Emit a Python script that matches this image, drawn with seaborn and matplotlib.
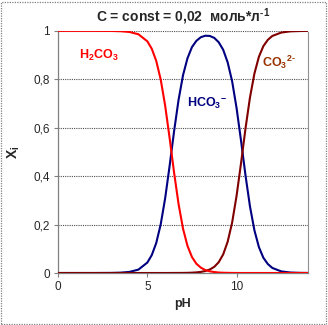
import matplotlib
matplotlib.use("Agg")
import matplotlib.pyplot as plt
import seaborn as sns
import pandas as pd
from matplotlib.patches import Rectangle

# pH grid and molar fractions of the carbonate species
ph = [0, 1, 2, 3, 3.5, 4, 4.5, 5, 5.25, 5.5, 5.75, 6, 6.25, 6.5, 6.75, 7,
      7.25, 7.5, 7.75, 8, 8.25, 8.5, 8.75, 9, 9.25, 9.5, 9.75, 10, 10.25,
      10.5, 10.75, 11, 11.25, 11.5, 11.75, 12, 12.5, 13, 13.5, 14]
h2co3 = [1.0, 1.0, 1.0, 0.9996, 0.9986, 0.9955, 0.986, 0.957, 0.926, 0.876,
         0.799, 0.691, 0.557, 0.414, 0.285, 0.183, 0.112, 0.066, 0.038,
         0.022, 0.012, 0.007, 0.004, 0.002, 0.001, 0.0006, 0.0003, 0.0001,
         0.0, 0.0, 0.0, 0.0, 0.0, 0.0, 0.0, 0.0, 0.0, 0.0, 0.0, 0.0]
hco3 = [0.0, 0.0, 0.0, 0.0004, 0.0014, 0.0045, 0.014, 0.043, 0.074, 0.124,
        0.201, 0.309, 0.443, 0.586, 0.715, 0.817, 0.887, 0.933, 0.959,
        0.974, 0.980, 0.979, 0.971, 0.953, 0.922, 0.870, 0.792, 0.681,
        0.546, 0.403, 0.275, 0.176, 0.107, 0.063, 0.037, 0.021, 0.0067,
        0.0021, 0.0007, 0.0002]
co3 = [0.0, 0.0, 0.0, 0.0, 0.0, 0.0, 0.0, 0.0, 0.0, 0.0, 0.0, 0.0, 0.0001,
       0.0002, 0.0003, 0.0004, 0.0007, 0.0014, 0.0025, 0.0046, 0.0082,
       0.0145, 0.0255, 0.0446, 0.077, 0.129, 0.208, 0.319, 0.454, 0.597,
       0.725, 0.824, 0.893, 0.937, 0.963, 0.979, 0.993, 0.998, 0.9993, 1.0]

x_ticks = [0, 5, 10]
y_ticks = [0, 0.2, 0.4, 0.6, 0.8, 1.0]
y_tick_labels = ["0", "0,2", "0,4", "0,6", "0,8", "1"]

sns.set_style("white")
plt.rcParams["font.family"] = ["Liberation Sans", "DejaVu Sans"]
plt.rcParams["mathtext.fontset"] = "custom"
plt.rcParams["mathtext.rm"] = "Liberation Sans:bold"
plt.rcParams["mathtext.it"] = "Liberation Sans:bold:italic"
plt.rcParams["mathtext.bf"] = "Liberation Sans:bold"

df = pd.DataFrame({"pH": ph, "H2CO3": h2co3, "HCO3": hco3, "CO3": co3})

fig = plt.figure(figsize=(3.28, 3.25), dpi=100)
ax = fig.add_axes([0.177, 0.160, 0.762, 0.745])

# horizontal dotted grid
for v in y_ticks[1:]:
    ax.axhline(v, color="#505050", lw=0.8, ls=(0, (1, 1)), zorder=1)

sns.lineplot(data=df, x="pH", y="HCO3", color="#000080", lw=1.5, ax=ax, zorder=3)
sns.lineplot(data=df, x="pH", y="CO3", color="#800000", lw=1.5, ax=ax, zorder=4)
sns.lineplot(data=df, x="pH", y="H2CO3", color="#FF0000", lw=1.5, ax=ax, zorder=5)

ax.set_xlim(0, 14)
ax.set_ylim(0, 1)
ax.set_xticks(x_ticks)
ax.set_yticks(y_ticks)
ax.set_yticklabels(y_tick_labels)
ax.tick_params(axis="both", direction="out", length=3, width=0.8,
               color="#808080", labelsize=8.5, pad=3, left=True, bottom=True)

for s in ["left", "bottom"]:
    ax.spines[s].set_color("#808080")
    ax.spines[s].set_linewidth(0.9)
ax.spines["top"].set_visible(False)
ax.spines["right"].set_color("#909090")
ax.spines["right"].set_linestyle((0, (1, 1)))
ax.spines["right"].set_linewidth(0.8)

ax.set_xlabel("pH", fontsize=9, fontweight="bold", labelpad=3)
ax.set_ylabel(r"$\mathbf{X_i}$", fontsize=10, labelpad=8)
ax.set_title(r"C = const = 0,02  моль*л$^{\text{-1}}$", fontsize=10,
             fontweight="bold", pad=7)

ax.text(1.15, 0.90, r"$\mathbf{H_2CO_3}$", color="#FF0000", fontsize=9,
        va="center")
ax.text(7.2, 0.70, r"$\mathbf{HCO_3{}^{-}}$", color="#000080", fontsize=9,
        va="center")
ax.text(11.45, 0.87, r"$\mathbf{CO_3{}^{2\text{-}}}$", color="#993300", fontsize=9,
        va="center")

# dotted frame around the whole figure
fig.patches.append(Rectangle((0.004, 0.004), 0.991, 0.991, transform=fig.transFigure,
                             fill=False, edgecolor="#808080", lw=0.9,
                             ls=(0, (1, 1))))

fig.savefig("out.png", dpi=100)
